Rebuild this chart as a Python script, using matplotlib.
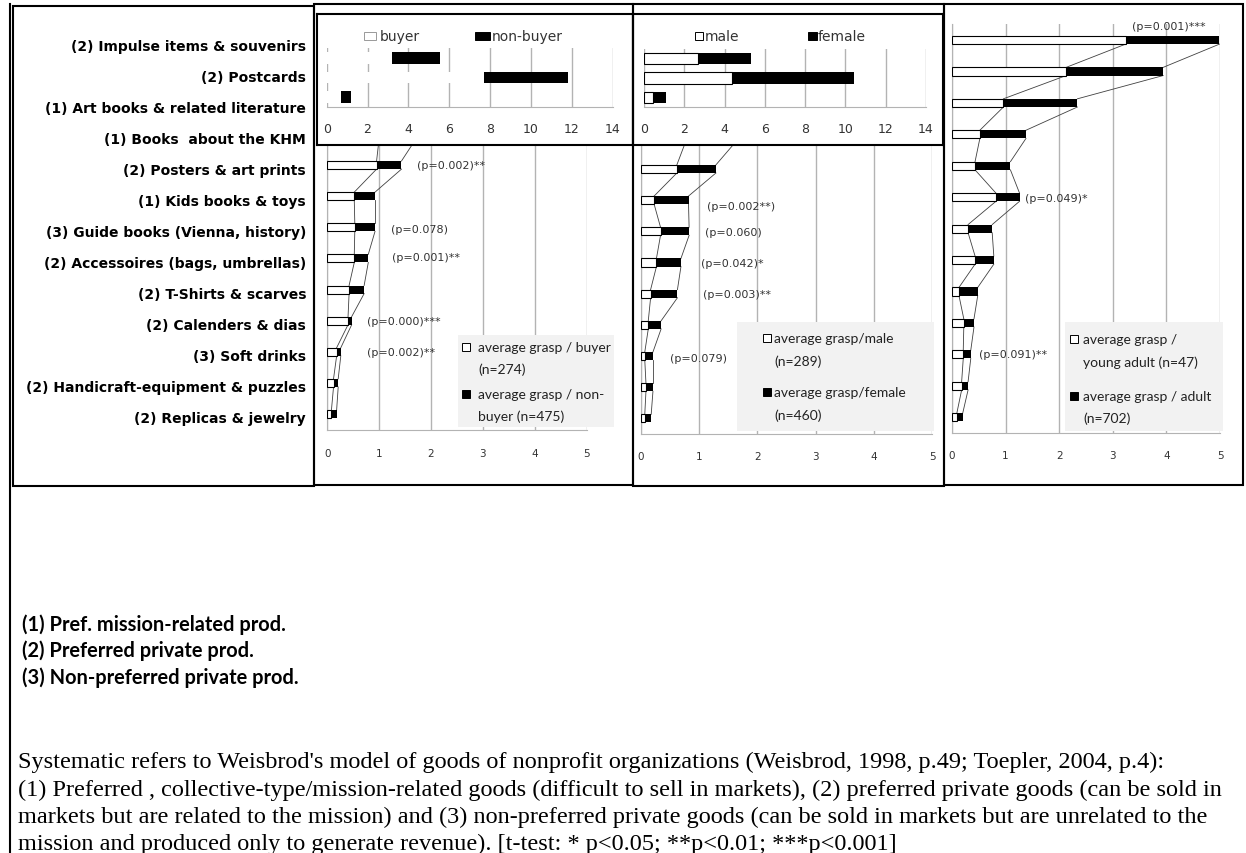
import matplotlib.pyplot as plt
from matplotlib.patches import Rectangle
import numpy as np

W, H = 1246, 854

categories = [
    "(2) Impulse items & souvenirs",
    "(2) Postcards",
    "(1) Art books & related literature",
    "(1) Books  about the KHM",
    "(2) Posters & art prints",
    "(1) Kids books & toys",
    "(3) Guide books (Vienna, history)",
    "(2) Accessoires (bags, umbrellas)",
    "(2) T-Shirts & scarves",
    "(2) Calenders & dias",
    "(3) Soft drinks",
    "(2) Handicraft-equipment & puzzles",
    "(2) Replicas & jewelry",
]

# average grasp per group; second series is stacked on the first
buyer     = [3.21, 7.70, 0.70, 1.00, 0.95, 0.52, 0.53, 0.52, 0.42, 0.40, 0.18, 0.12, 0.08]
non_buyer = [2.34, 4.13, 0.47, 0.72, 0.48, 0.40, 0.39, 0.27, 0.29, 0.07, 0.08, 0.09, 0.10]

male   = [2.69, 4.38, 0.43, 0.77, 0.62, 0.23, 0.34, 0.27, 0.17, 0.13, 0.07, 0.09, 0.07]
female = [2.60, 6.06, 0.66, 0.86, 0.67, 0.59, 0.49, 0.42, 0.46, 0.22, 0.14, 0.12, 0.11]

young_adult = [3.24, 2.13, 0.96, 0.52, 0.43, 0.82, 0.30, 0.43, 0.13, 0.22, 0.21, 0.18, 0.09]
adult       = [1.75, 1.81, 1.38, 0.86, 0.66, 0.44, 0.45, 0.35, 0.35, 0.19, 0.14, 0.12, 0.11]

# t-test results (row index, label)
p_buyer = [(4, "(p=0.002)**"), (6, "(p=0.078)"), (7, "(p=0.001)**"),
           (9, "(p=0.000)***"), (10, "(p=0.002)**")]
p_gender = [(5, "(p=0.002**)"), (6, "(p=0.060)"), (7, "(p=0.042)*"),
            (8, "(p=0.003)**"), (10, "(p=0.079)")]
p_age = [(0, "(p=0.001)***"), (5, "(p=0.049)*"), (10, "(p=0.091)**")]

key_buyer = [["average grasp / buyer", "(n=274)"], ["average grasp / non-", "buyer (n=475)"]]
key_gender = [["average grasp/male", "(n=289)"], ["average grasp/female", "(n=460)"]]
key_age = [["average grasp /", "young adult (n=47)"], ["average grasp / adult", "(n=702)"]]

notes = ["(1) Pref. mission-related prod.",
         "(2) Preferred private prod.",
         "(3) Non-preferred private prod."]
caption = [
    "Systematic refers to Weisbrod's model of goods of nonprofit organizations (Weisbrod, 1998, p.49; Toepler, 2004, p.4):",
    "(1) Preferred , collective-type/mission-related goods (difficult to sell in markets), (2) preferred private goods (can be sold in",
    "markets but are related to the mission) and (3) non-preferred private goods (can be sold in markets but are unrelated to the",
    "mission and produced only to generate revenue). [t-test: * p<0.05; **p<0.01; ***p<0.001]",
]

GRID = "#b3b3b3"


def px(x0, y0, x1, y1):
    return [x0 / W, 1 - y1 / H, (x1 - x0) / W, (y1 - y0) / H]


def style_axis(ax, xmax, step, pad, size):
    ax.set_xlim(0, xmax)
    ax.set_xticks(np.arange(0, xmax + 0.01, step))
    ax.set_yticks([])
    ax.grid(axis="x", color=GRID, lw=1)
    ax.set_axisbelow(True)
    for s in ["top", "right"]:
        ax.spines[s].set_visible(False)
    for s in ["left", "bottom"]:
        ax.spines[s].set_color(GRID)
    ax.tick_params(axis="x", length=0, pad=pad, labelcolor="#333333")
    for t in ax.get_xticklabels():
        t.set_fontfamily("DejaVu Sans")
        t.set_fontsize(size)


def panel(rect, a, b, pvals, p_x, p_dy, pad):
    a, b = np.array(a), np.array(b)
    ax = fig.add_axes(px(*rect), zorder=1)
    y = np.arange(len(a))
    h = 0.26
    ax.barh(y, a, height=h, color="white", edgecolor="black", lw=0.8, zorder=3)
    ax.barh(y, b, left=a, height=h, color="black", zorder=3)
    # series lines between neighbouring bars
    for e in (a, a + b):
        for i in range(len(y) - 1):
            ax.plot([e[i], e[i + 1]], [y[i] + h / 2, y[i + 1] - h / 2],
                    color="#404040", lw=0.6, zorder=2)
    ax.set_ylim(len(y) - 0.5, -0.5)
    style_axis(ax, 5, 1, pad, 7.5)
    for (row, txt), x, dy in zip(pvals, p_x, p_dy):
        ax.text(x, row + dy, txt, ha="left", va="center", fontsize=8,
                family="DejaVu Sans", color="#333333", zorder=5)
    return ax


def inset(frame, rect, a, b, white_edge, pad):
    box = fig.add_axes(px(*frame), zorder=2)
    box.set_xticks([])
    box.set_yticks([])
    for s in box.spines.values():
        s.set_linewidth(1.5)
    ax = fig.add_axes(px(*rect), zorder=3)
    ax.patch.set_alpha(0)
    y = np.arange(3)
    ax.barh(y, a[:3], height=0.6, color="white",
            edgecolor="black" if white_edge else "none", lw=0.8, zorder=3)
    ax.barh(y, b[:3], left=a[:3], height=0.6, color="black", zorder=3)
    ax.set_ylim(2.5, -0.5)
    style_axis(ax, 14, 2, pad, 9)
    ax.spines["left"].set_visible(False)
    return ax


def key_box(ov, box, mark_x, text_x, first_y, gap, entries):
    x0, y0, x1, y1 = box
    ov.add_patch(Rectangle((x0, y0), x1 - x0, y1 - y0, color="#f2f2f2", lw=0))
    for face, y, lines in zip(["white", "black"], first_y, entries):
        ov.add_patch(Rectangle((mark_x, y - 4), 8, 8, facecolor=face,
                               edgecolor="black", lw=0.7))
        for k, line in enumerate(lines):
            ov.text(text_x, y + k * gap, line, ha="left", va="center",
                    fontsize=10, family="Lato", color="#222222")


def inset_key(ov, y, items):
    for label, (m0, m1), tx, face, edge in items:
        ov.add_patch(Rectangle((m0, y - 4), m1 - m0, 8, facecolor=face,
                               edgecolor=edge, lw=0.7))
        ov.text(tx, y, label, ha="left", va="center", fontsize=10,
                family="DejaVu Sans", color="#333333")


fig = plt.figure(figsize=(W / 100, H / 100), dpi=100)

panel((327.3, 26, 586.7, 430.6), buyer, non_buyer, p_buyer,
      [1.73, 1.23, 1.25, 0.76, 0.76], [0, 0.05, -0.03, 0, 0], 13.5)
panel((640.7, 29.6, 932.3, 435), male, female, p_gender,
      [1.13, 1.10, 1.03, 1.07, 0.51], [0.2, 0.03, 0.03, 0, 0.05], 12.5)
panel((952, 25.3, 1220, 434), young_adult, adult, p_age,
      [3.36, 1.36, 0.50], [-0.45, 0.03, 0], 12.5)

inset((317, 15, 633, 146), (326.7, 49, 612.7, 108), buyer, non_buyer, False, 10.5)
inset((633, 15, 943, 146), (644, 50, 926, 108), male, female, True, 10.5)

ov = fig.add_axes([0, 0, 1, 1], zorder=10)
ov.set_xlim(0, W)
ov.set_ylim(H, 0)
ov.axis("off")

# frames
ov.plot([9.5, 9.5], [5, H], color="black", lw=1.5)
ov.add_patch(Rectangle((12.5, 7), 314 - 12.5, 487 - 7, fill=False, lw=1.5))
ov.add_patch(Rectangle((314, 5), 633 - 314, 486 - 5, fill=False, lw=1.5))
ov.add_patch(Rectangle((633, 5), 943.6 - 633, 487 - 5, fill=False, lw=1.5))
ov.add_patch(Rectangle((943.6, 5), 1243 - 943.6, 486 - 5, fill=False, lw=1.5))

for i, c in enumerate(categories):
    ov.text(306, 46.7 + i * 31.05, c, ha="right", va="center",
            fontsize=10, fontweight="bold", family="DejaVu Sans", color="black")

key_box(ov, (458.3, 335.7, 614, 428.3), 462, 478, [348.3, 395], 21.7, key_buyer)
key_box(ov, (737.3, 323, 934, 431.7), 763, 774.3, [339.3, 393.3], 22, key_gender)
key_box(ov, (1065, 323, 1223, 432), 1070, 1083, [340, 396.7], 22.5, key_age)

inset_key(ov, 37, [("buyer", (364, 376), 380, "white", "#999999"),
                   ("non-buyer", (475, 490), 492, "black", "black")])
inset_key(ov, 37, [("male", (695, 703), 705, "white", "black"),
                   ("female", (808, 817), 818, "black", "black")])

for i, n in enumerate(notes):
    ov.text(22, 625 + i * 26.2, n, ha="left", va="center", fontsize=14.4,
            fontweight="bold", family="Lato", color="black")

for i, line in enumerate(caption):
    ov.text(18, 762.7 + i * 27.4, line, ha="left", va="center", fontsize=17.5,
            family="Liberation Serif", color="black")

fig.savefig("out.png", dpi=100)
